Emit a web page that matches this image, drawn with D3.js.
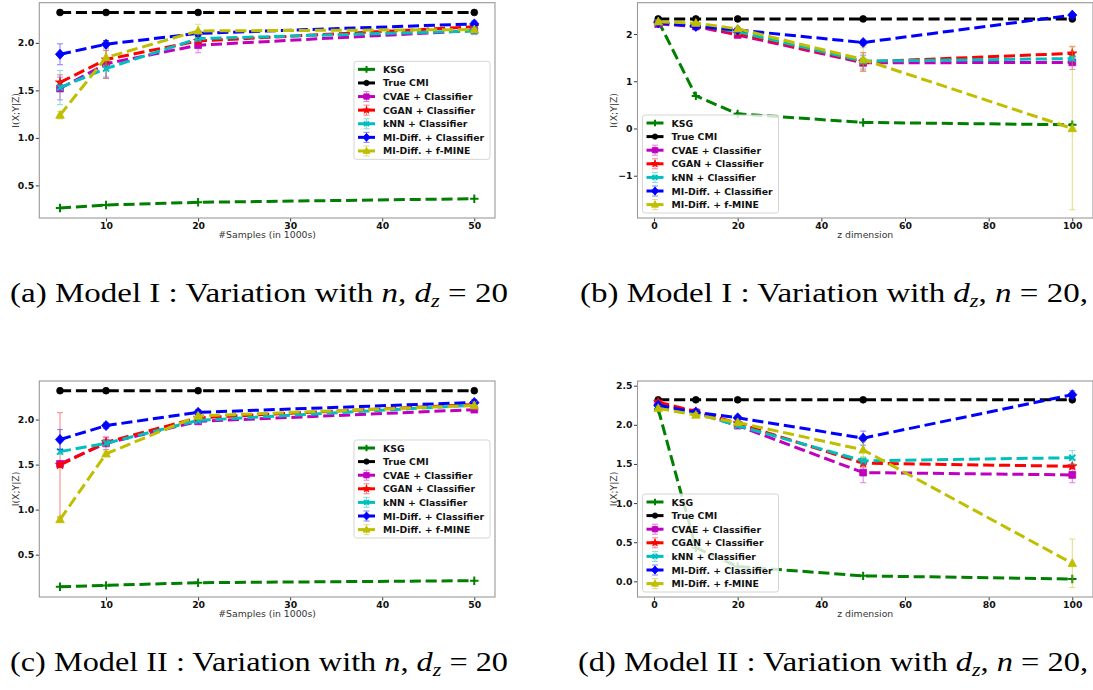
<!DOCTYPE html>
<html><head><meta charset="utf-8">
<script src="https://cdn.jsdelivr.net/npm/d3@7"></script>
<style>
html,body{margin:0;padding:0;background:#fff;}
svg{display:block;}
</style></head>
<body>
<svg id="fig" width="1093" height="690"></svg>
<script>
// ---------------- data ----------------
const seriesNames = ["KSG", "True CMI", "CVAE + Classifier", "CGAN + Classifier", "kNN + Classifier", "MI-Diff. + Classifier", "MI-Diff. + f-MINE"];
const seriesColors = ["#008000", "#000000", "#bf00bf", "#ff0000", "#00bfbf", "#0000ff", "#bfbf00"];
const seriesMarkers = ["plus", "circle", "square", "star", "x", "diamond", "triangle"];

const xSamples = [5, 10, 20, 50];
const xDims = [1, 10, 20, 50, 100];

const ticksSamples = [10, 20, 30, 40, 50];
const ticksDims = [0, 20, 40, 60, 80, 100];
const yTicksA = [0.5, 1.0, 1.5, 2.0];
const yTicksB = [-1, 0, 1, 2];
const yTicksC = [0.5, 1.0, 1.5, 2.0];
const yTicksD = [0.0, 0.5, 1.0, 1.5, 2.0, 2.5];

// Model I, variation with n
const modelI_n_values = [
  [0.262, 0.294, 0.322, 0.36],
  [2.32, 2.32, 2.32, 2.32],
  [1.52, 1.78, 1.976, 2.13],
  [1.584, 1.825, 2.02, 2.17],
  [1.53, 1.73, 2.045, 2.126],
  [1.88, 1.986, 2.10, 2.20],
  [1.24, 1.846, 2.126, 2.14]
];
const modelI_n_errors = [[], [], [0.12, 0.14, 0.08, 0.03], [0.08, 0.2, 0.03, 0.03], [0.18, 0.1, 0.03, 0.04], [0.11, 0.04, 0.03, 0.03], [0.04, 0.08, 0.07, 0.03]];

// Model I, variation with d_z
const modelI_d_values = [
  [2.28, 0.69, 0.31, 0.128, 0.078],
  [2.32, 2.32, 2.32, 2.32, 2.32],
  [2.21, 2.16, 1.98, 1.39, 1.40],
  [2.24, 2.17, 2.01, 1.41, 1.59],
  [2.24, 2.19, 2.05, 1.425, 1.48],
  [2.24, 2.16, 2.085, 1.82, 2.40],
  [2.26, 2.23, 2.11, 1.46, 0.0]
];
const modelI_d_errors = [[], [], [0.03, 0.03, 0.05, 0.15, 0.15], [0.03, 0.03, 0.03, 0.2, 0.15], [0.03, 0.03, 0.03, 0.15, 0.05], [0.03, 0.03, 0.03, 0.05, 0.03], [0.03, 0.03, 0.03, 0.25, 1.72]];

// Model II, variation with n
const modelII_n_values = [
  [0.144, 0.159, 0.189, 0.211],
  [2.32, 2.32, 2.32, 2.32],
  [1.507, 1.737, 1.98, 2.11],
  [1.496, 1.748, 2.02, 2.167],
  [1.644, 1.737, 1.99, 2.16],
  [1.778, 1.933, 2.08, 2.19],
  [0.89, 1.62, 2.04, 2.156]
];
const modelII_n_errors = [[], [], [0.03, 0.07, 0.03, 0.03], [0.58, 0.05, 0.03, 0.03], [0.03, 0.03, 0.03, 0.03], [0.11, 0.03, 0.03, 0.03], [0.03, 0.03, 0.03, 0.04]];

// Model II, variation with d_z
const modelII_d_values = [
  [2.2, 0.43, 0.19, 0.07, 0.03],
  [2.32, 2.32, 2.32, 2.32, 2.32],
  [2.27, 2.16, 1.99, 1.39, 1.36],
  [2.29, 2.17, 2.02, 1.51, 1.47],
  [2.24, 2.15, 1.99, 1.54, 1.58],
  [2.25, 2.16, 2.09, 1.83, 2.385],
  [2.21, 2.125, 2.03, 1.68, 0.23]
];
const modelII_d_errors = [[], [], [0.03, 0.03, 0.03, 0.13, 0.1], [0.03, 0.03, 0.03, 0.05, 0.03], [0.03, 0.03, 0.03, 0.05, 0.09], [0.03, 0.03, 0.03, 0.09, 0.05], [0.03, 0.03, 0.03, 0.1, 0.31]];

// ---------------- layout ----------------
const svg = d3.select("#fig");
const FONT = "'DejaVu Sans', sans-serif";
const FS = 9.3;

const panels = [
  {box: {l: 39.3, r: 495, t: 2.7, b: 218}, x: xSamples, vals: modelI_n_values, errs: modelI_n_errors,
   xdom: [2.75, 52.25], ydom: [0.157, 2.423], xt: ticksSamples, yt: yTicksA, yfmt: d3.format(".1f"),
   xlabel: "#Samples (in 1000s)", legend: "right", ylabX: 15},
  {box: {l: 637.5, r: 1093, t: 2.7, b: 218}, x: xDims, vals: modelI_d_values, errs: modelI_d_errors,
   xdom: [-3.95, 104.95], ydom: [-1.895, 2.663], xt: ticksDims, yt: yTicksB, yfmt: d => d < 0 ? "\u2212" + Math.abs(d) : String(d),
   xlabel: "z dimension", legend: "left", ylabX: 613},
  {box: {l: 39.3, r: 495, t: 381, b: 597}, x: xSamples, vals: modelII_n_values, errs: modelII_n_errors,
   xdom: [2.75, 52.25], ydom: [0.03, 2.428], xt: ticksSamples, yt: yTicksC, yfmt: d3.format(".1f"),
   xlabel: "#Samples (in 1000s)", legend: "right", ylabX: 15},
  {box: {l: 637.5, r: 1093, t: 381, b: 597}, x: xDims, vals: modelII_d_values, errs: modelII_d_errors,
   xdom: [-3.95, 104.95], ydom: [-0.2, 2.56], xt: ticksDims, yt: yTicksD, yfmt: d3.format(".1f"),
   xlabel: "z dimension", legend: "left", ylabX: 613}
];

function markerPath(type, s) {
  s = s || 1;
  switch (type) {
    case "plus": return `M${-4.2*s},0H${4.2*s}M0,${-4.2*s}V${4.2*s}`;
    case "x": return `M${-3*s},${-3*s}L${3*s},${3*s}M${-3*s},${3*s}L${3*s},${-3*s}`;
    case "circle": return d3.symbol(d3.symbolCircle, 36 * s * s)();
    case "square": return `M${-3.4*s},${-3.4*s}H${3.4*s}V${3.4*s}H${-3.4*s}Z`;
    case "star": return d3.symbol(d3.symbolStar, 26 * s * s)();
    case "diamond": return `M0,${-5*s}L${4.6*s},0L0,${5*s}L${-4.6*s},0Z`;
    case "triangle": return `M0,${-4.6*s}L${4.3*s},${3.2*s}L${-4.3*s},${3.2*s}Z`;
  }
}
function drawMarker(g, type, color, cx, cy, s) {
  const stroked = (type === "plus" || type === "x");
  g.append("path").attr("d", markerPath(type, s))
    .attr("transform", `translate(${cx},${cy})`)
    .attr("fill", stroked ? "none" : color)
    .attr("stroke", color)
    .attr("stroke-width", stroked ? 2 : 0.8);
}

panels.forEach((p, pi) => {
  const g = svg.append("g");
  const x = d3.scaleLinear().domain(p.xdom).range([p.box.l, p.box.r]);
  const y = d3.scaleLinear().domain(p.ydom).range([p.box.b, p.box.t]);
  const clipId = "clip" + pi;
  svg.append("clipPath").attr("id", clipId).append("rect")
    .attr("x", p.box.l).attr("y", p.box.t).attr("width", p.box.r - p.box.l).attr("height", p.box.b - p.box.t);

  // axes
  const xAxis = d3.axisBottom(x).tickValues(p.xt).tickSize(3.5).tickPadding(1).tickFormat(d3.format("d"));
  const yAxis = d3.axisLeft(y).tickValues(p.yt).tickSize(3.5).tickPadding(1.5).tickFormat(p.yfmt);
  const gx = g.append("g").attr("transform", `translate(0,${p.box.b})`).call(xAxis);
  const gy = g.append("g").attr("transform", `translate(${p.box.l},0)`).call(yAxis);
  [gx, gy].forEach(a => {
    a.select(".domain").remove();
    a.selectAll(".tick line").attr("stroke", "#222").attr("stroke-width", 0.9);
    a.selectAll(".tick text").attr("font-family", FONT).attr("font-weight", "bold")
      .attr("font-size", FS).attr("fill", "#111");
  });

  // frame
  g.append("rect").attr("x", p.box.l).attr("y", p.box.t)
    .attr("width", p.box.r - p.box.l).attr("height", p.box.b - p.box.t)
    .attr("fill", "none").attr("stroke", "#999").attr("stroke-width", 1.1);

  // axis labels
  g.append("text").attr("x", (p.box.l + p.box.r) / 2).attr("y", p.box.b + 20)
    .attr("text-anchor", "middle").attr("font-family", FONT).attr("font-size", FS)
    .attr("fill", "#333").text(p.xlabel);
  g.append("text").attr("transform", `translate(${p.ylabX},${(p.box.t + p.box.b) / 2}) rotate(-90)`)
    .attr("text-anchor", "middle").attr("dominant-baseline", "central")
    .attr("font-family", FONT).attr("font-size", FS).attr("fill", "#333").text("I(X;Y|Z)");

  // data
  const dg = g.append("g").attr("clip-path", `url(#${clipId})`);
  p.vals.forEach((vals, si) => {
    const col = seriesColors[si];
    const errs = p.errs[si];
    const pts = vals.map((v, i) => [p.x[i], v]);
    if (errs.length) {
      pts.forEach((pt, i) => {
        const e = errs[i];
        const xx = x(pt[0]);
        const eg = dg.append("g").attr("stroke", col).attr("stroke-width", 1).attr("opacity", 0.5);
        eg.append("line").attr("x1", xx).attr("x2", xx).attr("y1", y(pt[1] - e)).attr("y2", y(pt[1] + e));
        eg.append("line").attr("x1", xx - 3).attr("x2", xx + 3).attr("y1", y(pt[1] - e)).attr("y2", y(pt[1] - e));
        eg.append("line").attr("x1", xx - 3).attr("x2", xx + 3).attr("y1", y(pt[1] + e)).attr("y2", y(pt[1] + e));
      });
    }
    dg.append("path").datum(pts)
      .attr("d", d3.line().x(d => x(d[0])).y(d => y(d[1])))
      .attr("fill", "none").attr("stroke", col).attr("stroke-width", 3)
      .attr("stroke-dasharray", "11.1,4.8");
    pts.forEach(pt => drawMarker(dg, seriesMarkers[si], col, x(pt[0]), y(pt[1]), 1));
  });

  // legend
  const lw = 136, lh = 98;
  const lx = p.legend === "right" ? p.box.r - 5 - lw : p.box.l + 5;
  const ly = p.legend === "right" ? (p.box.t + p.box.b) / 2 - lh / 2 : p.box.b - 5 - lh;
  const lg = g.append("g");
  lg.append("rect").attr("x", lx).attr("y", ly).attr("width", lw).attr("height", lh)
    .attr("rx", 2.5).attr("fill", "#fff").attr("fill-opacity", 0.8)
    .attr("stroke", "#d0d0d0").attr("stroke-width", 0.9);
  seriesNames.forEach((name, si) => {
    const ry = ly + 8 + si * 13.6;
    const col = seriesColors[si];
    const hx1 = lx + 4, hx2 = lx + 21, hc = (hx1 + hx2) / 2;
    if (si >= 2) {
      const eg = lg.append("g").attr("stroke", col).attr("stroke-width", 1).attr("opacity", 0.5);
      eg.append("line").attr("x1", hc).attr("x2", hc).attr("y1", ry - 5).attr("y2", ry + 5);
      eg.append("line").attr("x1", hc - 3).attr("x2", hc + 3).attr("y1", ry - 5).attr("y2", ry - 5);
      eg.append("line").attr("x1", hc - 3).attr("x2", hc + 3).attr("y1", ry + 5).attr("y2", ry + 5);
    }
    lg.append("line").attr("x1", hx1).attr("x2", hx2).attr("y1", ry).attr("y2", ry)
      .attr("stroke", col).attr("stroke-width", 3);
    drawMarker(lg, seriesMarkers[si], col, hc, ry, 0.8);
    lg.append("text").attr("x", lx + 29).attr("y", ry).attr("dominant-baseline", "central")
      .attr("font-family", FONT).attr("font-weight", "bold").attr("font-size", FS)
      .attr("fill", "#111").text(name);
  });
});

// ---------------- captions ----------------
const captions = [
  {x: 10, y: 302, w: 498, parts: [["(a) Model I : Variation with ", ""], ["n", "i"], [", ", ""], ["d", "i"], ["z", "sub"], [" = 20", "back"]]},
  {x: 580, y: 302, w: 508, parts: [["(b) Model I : Variation with ", ""], ["d", "i"], ["z", "sub"], [", ", "back"], ["n", "i"], [" = 20,", ""]]},
  {x: 10, y: 671, w: 498, parts: [["(c) Model II : Variation with ", ""], ["n", "i"], [", ", ""], ["d", "i"], ["z", "sub"], [" = 20", "back"]]},
  {x: 578, y: 671, w: 510, parts: [["(d) Model II : Variation with ", ""], ["d", "i"], ["z", "sub"], [", ", "back"], ["n", "i"], [" = 20,", ""]]}
];
captions.forEach(c => {
  const t = svg.append("text").attr("x", c.x).attr("y", c.y)
    .attr("font-family", "'Liberation Serif', serif").attr("font-size", 28).attr("fill", "#000")
    .attr("textLength", c.w).attr("lengthAdjust", "spacingAndGlyphs");
  c.parts.forEach(([s, st]) => {
    const ts = t.append("tspan").text(s);
    if (st === "i") ts.attr("font-style", "italic");
    if (st === "sub") ts.attr("font-style", "italic").attr("font-size", 19).attr("dy", 5);
    if (st === "back") ts.attr("dy", -5);
  });
});
</script>
</body></html>
